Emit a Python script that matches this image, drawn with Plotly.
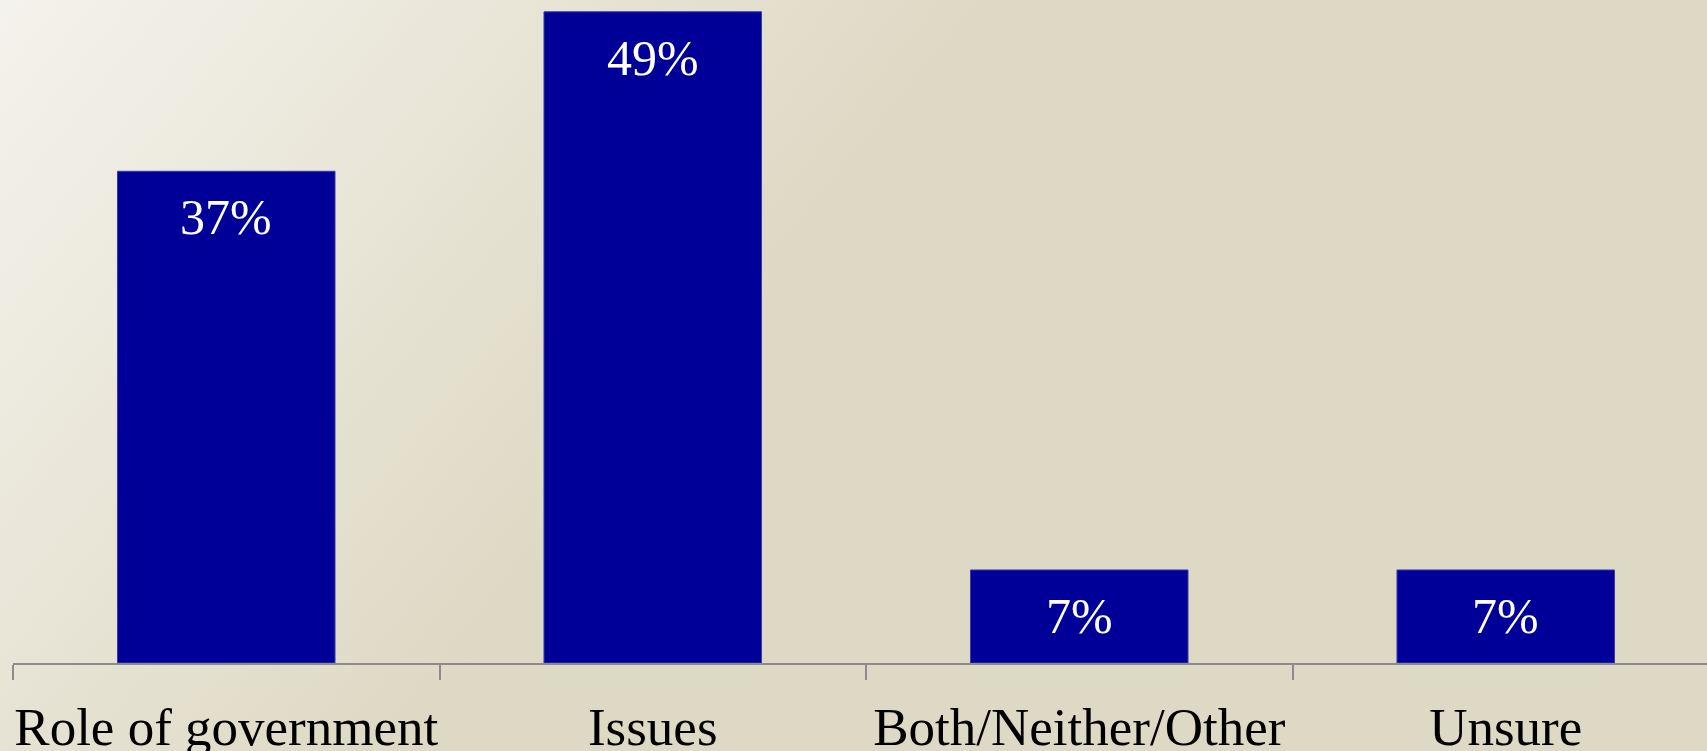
import base64
import plotly.graph_objects as go

categories = ["Role of government", "Issues", "Both/Neither/Other", "Unsure"]
values = [37, 49, 7, 7]
value_labels = ["37%", "49%", "7%", "7%"]

W, H = 1707, 751
ML, MR, MT, MB = 13, 0, 0, 88
plot_w = W - ML - MR
plot_h = H - MT - MB
cat_px = 426.5
px_per_pct = 13.29

FONT = "Liberation Serif, Times New Roman, serif"

svg = (
    '<svg xmlns="http://www.w3.org/2000/svg" width="1707" height="751" viewBox="0 0 1707 751" preserveAspectRatio="none">'
    '<defs><linearGradient id="g" x1="0" y1="0" x2="1100" y2="900" gradientUnits="userSpaceOnUse">'
    '<stop offset="0" stop-color="#f4f2ec"/>'
    '<stop offset="0.55" stop-color="#ded9c4"/>'
    '<stop offset="1" stop-color="#ded9c4"/>'
    '</linearGradient></defs>'
    '<rect x="0" y="0" width="1707" height="751" fill="url(#g)"/></svg>'
)
bg_uri = "data:image/svg+xml;base64," + base64.b64encode(svg.encode()).decode()

fig = go.Figure()
fig.add_trace(go.Bar(
    x=categories,
    y=values,
    marker=dict(color="#000099", line=dict(color="#3a3aa8", width=1)),
    hoverinfo="skip",
))

for c, v, t in zip(categories, values, value_labels):
    fig.add_annotation(
        x=c, y=v, xref="x", yref="y",
        text=t, showarrow=False,
        yanchor="top", yshift=-16,
        font=dict(family=FONT, size=50, color="white"),
    )

fig.update_layout(
    width=W, height=H,
    margin=dict(l=ML, r=MR, t=MT, b=MB, pad=0, autoexpand=False),
    paper_bgcolor="#ded9c4",
    plot_bgcolor="rgba(0,0,0,0)",
    bargap=0.49,
    showlegend=False,
    images=[dict(
        source=bg_uri, xref="paper", yref="paper",
        x=-ML / plot_w, y=1 + MT / plot_h,
        sizex=W / plot_w, sizey=H / plot_h,
        xanchor="left", yanchor="top",
        sizing="stretch", layer="below",
    )],
    xaxis=dict(
        type="category",
        range=[-0.5, plot_w / cat_px - 0.5],
        tickson="boundaries",
        ticks="outside", ticklen=15, tickwidth=1.5, tickcolor="#8c8c8c",
        showline=True, linecolor="#8c8c8c", linewidth=1.5,
        showgrid=False, zeroline=False,
        tickangle=0, automargin=False,
        tickfont=dict(family=FONT, size=53, color="black"),
        ticklabelstandoff=17,
        fixedrange=True,
    ),
    yaxis=dict(
        range=[0, plot_h / px_per_pct],
        visible=False, automargin=False,
        showgrid=False, zeroline=False,
        fixedrange=True,
    ),
)

fig.write_html(
    "out.html",
    config={"displayModeBar": False},
    post_script="document.body.style.margin='0';document.body.style.overflow='hidden';document.body.style.background='#ded9c4';",
)
